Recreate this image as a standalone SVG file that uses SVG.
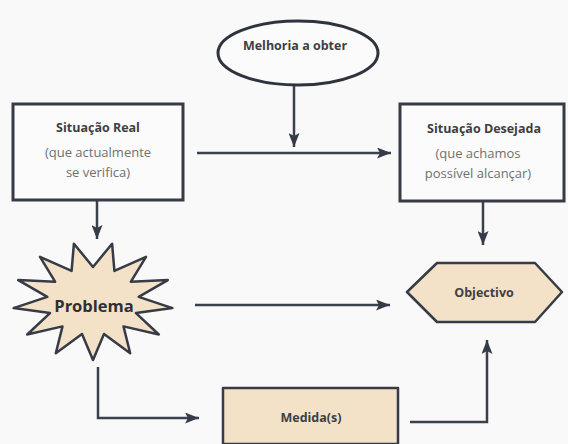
<svg xmlns="http://www.w3.org/2000/svg" width="568" height="444" viewBox="0 0 568 444">
  <defs>
    <marker id="arrow" markerUnits="userSpaceOnUse" markerWidth="15" markerHeight="11" refX="14" refY="5.5" orient="auto">
      <path d="M0,0 L14,5.5 L0,11 L3,5.5 Z" fill="#353b47"/>
    </marker>
    <style>
      .box { fill: #fbfbfb; stroke: #363b46; stroke-width: 3; }
      .shape { fill: #f4e2c8; stroke: #363b46; stroke-width: 2.5; stroke-linejoin: round; }
      .link { fill: none; stroke: #3a404c; stroke-width: 2.5; marker-end: url(#arrow); }
      .title { font-family: "Open Sans", "Noto Sans", sans-serif; font-weight: bold; font-size: 12.5px; fill: #3d3f45; text-anchor: middle; }
      .sub { font-family: "Open Sans", "Noto Sans", sans-serif; font-size: 13px; fill: #707070; text-anchor: middle; }
    </style>
  </defs>
  <rect width="568" height="444" fill="#f9f9f9"/>

  <g id="connectors">
    <path class="link" d="M294,84 V147"/>
    <path class="link" d="M197,153 H391"/>
    <path class="link" d="M97,200 V239"/>
    <path class="link" d="M483,202 V245"/>
    <path class="link" d="M195,305 H390"/>
    <path class="link" d="M98,367 V418 H199"/>
    <path class="link" d="M410,422 H487 V340"/>
  </g>

  <g id="melhoria">
    <ellipse cx="298" cy="53" rx="80" ry="32" fill="#fbfbfb" stroke="#2e333d" stroke-width="3"/>
    <text class="title" x="295" y="50">Melhoria a obter</text>
  </g>

  <g id="situacao-real">
    <rect class="box" x="13" y="104" width="170" height="96"/>
    <text class="title" x="98" y="132">Situação Real</text>
    <text class="sub" x="98" y="157">(que actualmente</text>
    <text class="sub" x="98" y="177">se verifica)</text>
  </g>

  <g id="situacao-desejada">
    <rect class="box" x="400" y="104" width="164" height="97"/>
    <text class="title" x="484" y="133">Situação Desejada</text>
    <text class="sub" x="478" y="158">(que achamos</text>
    <text class="sub" x="478" y="178">possível alcançar)</text>
  </g>

  <g id="problema">
    <polygon class="shape" points="93,360 82,334 55.8,353.2 62.5,326.4 27.2,334.5 50,313.1 13.6,308.1 47.3,296.9 18.2,280.1 55.1,281.7 40,256.8 71.6,270.9 73.9,243.7 93,267 112.1,243.7 114.4,270.9 146,256.8 130.9,281.7 167.8,280.1 138.7,296.9 172.4,308.1 136,313.1 158.8,334.5 123.5,326.4 130.2,353.2 104,334"/>
    <text x="94" y="312" font-family="'Open Sans', 'Noto Sans', sans-serif" font-weight="bold" font-size="16.5" fill="#2f2f35" text-anchor="middle">Problema</text>
  </g>

  <g id="objectivo">
    <polygon class="shape" points="407,292 437,263 535,263 562,292 535,322 437,322" stroke-width="3"/>
    <text class="title" x="484" y="297">Objectivo</text>
  </g>

  <g id="medidas">
    <rect class="shape" x="223" y="388" width="175" height="56" stroke-width="3"/>
    <text class="title" x="311" y="422" font-size="13.5">Medida(s)</text>
  </g>
</svg>
